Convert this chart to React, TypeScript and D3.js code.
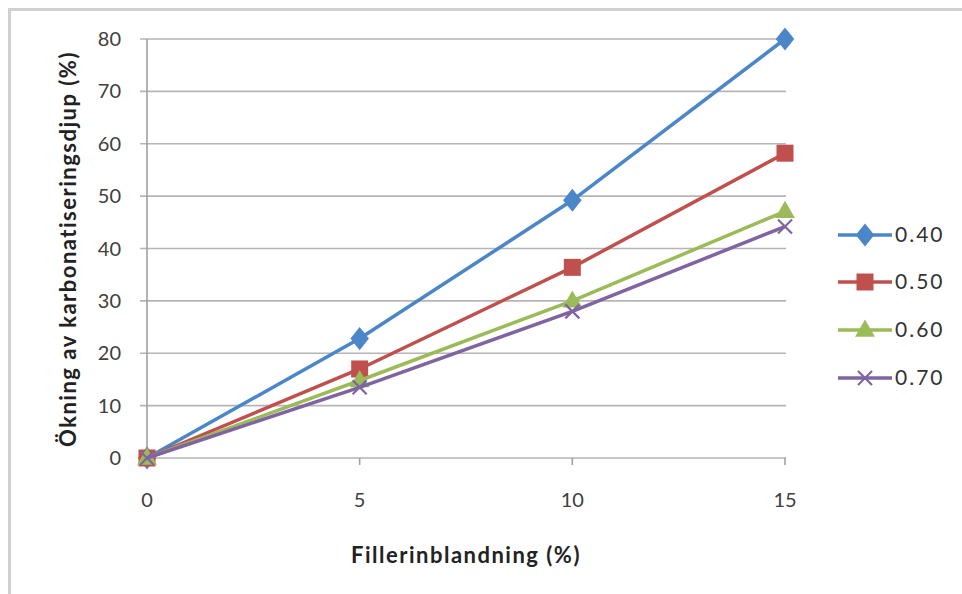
import React from "react";
import * as d3 from "d3";

const xValues = [0, 5, 10, 15];
const seriesNames = ["0.40", "0.50", "0.60", "0.70"];
const s040 = [0, 22.8, 49.2, 80];
const s050 = [0, 17.0, 36.4, 58.2];
const s060 = [0, 14.8, 30.0, 47.1];
const s070 = [0, 13.5, 28.0, 44.2];
const colors = ["#4a86c8", "#c0504d", "#9bbb59", "#8064a2"];
const markers = ["diamond", "square", "triangle", "x"];
const yTicks = [0, 10, 20, 30, 40, 50, 60, 70, 80];
const xTicks = [0, 5, 10, 15];

const W = 962, H = 594;
const font = "Lato, 'Liberation Sans', Arial, sans-serif";

function Marker({ type, x, y, color }: { type: string; x: number; y: number; color: string }) {
  if (type === "diamond") {
    const p = d3.symbol().type(d3.symbolDiamond).size(190)();
    return <path d={p!} transform={`translate(${x},${y}) scale(1.25,0.9)`} fill={color} />;
  }
  if (type === "square") {
    return <rect x={x - 8.5} y={y - 8.5} width={17} height={17} fill={color} />;
  }
  if (type === "triangle") {
    const p = d3.symbol().type(d3.symbolTriangle).size(170)();
    return <path d={p!} transform={`translate(${x},${y + 1})`} fill={color} />;
  }
  return (
    <g stroke={color} strokeWidth={2.2}>
      <line x1={x - 7} y1={y - 7} x2={x + 7} y2={y + 7} />
      <line x1={x - 7} y1={y + 7} x2={x + 7} y2={y - 7} />
    </g>
  );
}

export default function App() {
  const x = d3.scaleLinear().domain([0, 15]).range([147, 785]);
  const y = d3.scaleLinear().domain([0, 80]).range([458, 39]);
  const series = [s040, s050, s060, s070];
  const line = d3.line<number>().x((_, i) => x(xValues[i])).y((d) => y(d));
  const legendY = [235, 282, 330, 378];

  return (
    <svg width={W} height={H} style={{ position: "absolute", left: 0, top: 0, background: "#fff" }}>
      <rect x={0} y={0} width={W} height={H} fill="#fff" />
      <rect x={9.5} y={9.5} width={W + 20} height={H + 20} fill="none" stroke="#d0d0d0" strokeWidth={3} />
      {yTicks.map((t) => (
        <line key={t} x1={140} x2={786} y1={y(t)} y2={y(t)} stroke="#b5b5b5" strokeWidth={1.6} />
      ))}
      <line x1={x(0)} x2={x(0)} y1={y(80)} y2={y(0)} stroke="#a0a0a0" strokeWidth={1.6} />
      {xTicks.map((t) => (
        <line key={t} x1={x(t)} x2={x(t)} y1={y(0)} y2={y(0) + 7} stroke="#a0a0a0" strokeWidth={1.6} />
      ))}
      {yTicks.map((t) => (
        <text key={t} x={121} y={y(t)} dy="0.35em" textAnchor="end" fontFamily={font} fontSize={20} fill="#404040">
          {t}
        </text>
      ))}
      {xTicks.map((t) => (
        <text key={t} x={x(t)} y={500} dy="0.35em" textAnchor="middle" fontFamily={font} fontSize={20} fill="#404040">
          {t}
        </text>
      ))}
      <text x={466} y={555} dy="0.35em" textAnchor="middle" fontFamily={font} fontSize={22} fontWeight="bold" letterSpacing={1.5} fill="#222">
        Fillerinblandning (%)
      </text>
      <text
        transform={`translate(68,249) rotate(-90)`}
        dy="0.35em"
        textAnchor="middle"
        fontFamily={font}
        fontSize={22}
        fontWeight="bold"
        letterSpacing={1.5}
        fill="#222"
      >
        Ökning av karbonatiseringsdjup (%)
      </text>
      {series.map((s, si) => (
        <g key={si}>
          <path d={line(s)!} fill="none" stroke={colors[si]} strokeWidth={3.5} strokeLinejoin="round" />
          {s.map((v, i) => (
            <Marker key={i} type={markers[si]} x={x(xValues[i])} y={y(v)} color={colors[si]} />
          ))}
        </g>
      ))}
      {seriesNames.map((n, i) => (
        <g key={n}>
          <line x1={838} x2={892} y1={legendY[i]} y2={legendY[i]} stroke={colors[i]} strokeWidth={3.5} />
          <Marker type={markers[i]} x={865} y={legendY[i]} color={colors[i]} />
          <text x={895} y={legendY[i]} dy="0.35em" fontFamily={font} fontSize={21} letterSpacing={2} fill="#333">
            {n}
          </text>
        </g>
      ))}
    </svg>
  );
}
